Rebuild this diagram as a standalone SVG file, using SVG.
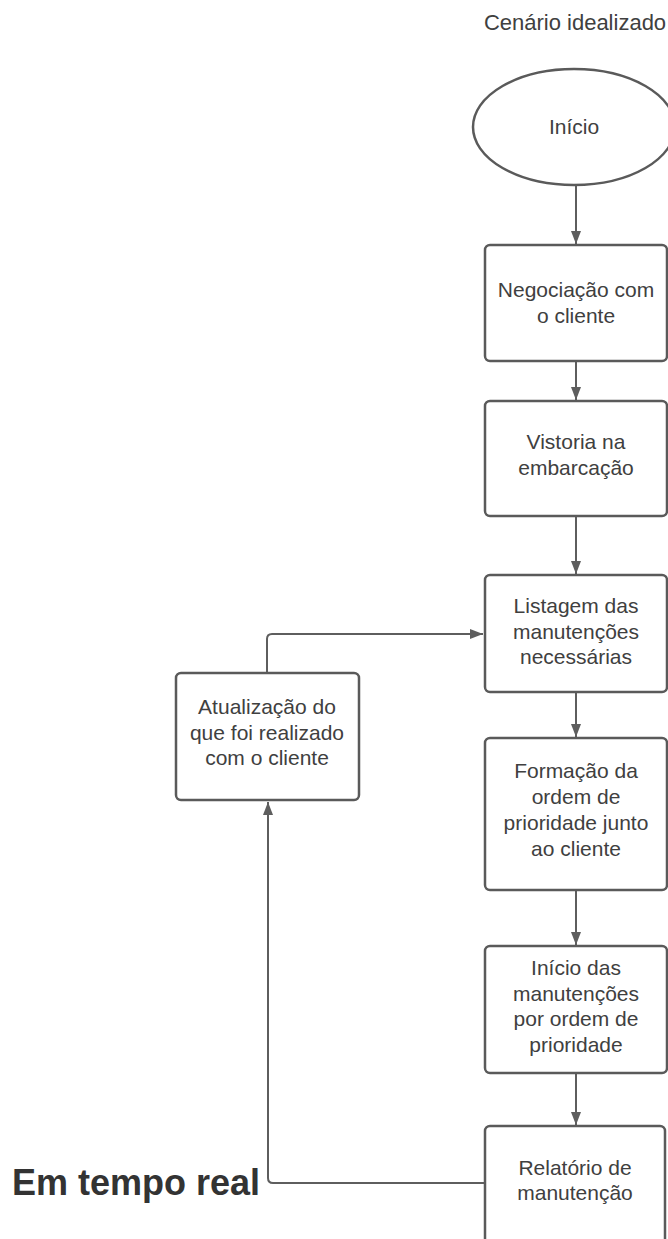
<svg xmlns="http://www.w3.org/2000/svg" width="668" height="1239" viewBox="0 0 668 1239">
<defs>
<style>
.box{fill:#ffffff;stroke:#5a5a5a;stroke-width:2.5}
.t{font-family:"Liberation Sans",Arial,sans-serif;font-size:21px;fill:#404040;text-anchor:middle}
.c{fill:none;stroke:#5e5e5e;stroke-width:2}
</style>
<marker id="ah" markerUnits="userSpaceOnUse" markerWidth="14" markerHeight="12" refX="13" refY="5" orient="auto">
<path d="M0,0 L13,5 L0,10 Z" fill="#5e5e5e"/>
</marker>
</defs>
<rect width="668" height="1239" fill="#ffffff"/>
<text x="575" y="30" class="t" style="font-size:22px">Cenário idealizado</text>

<g id="connectors">
<line class="c" x1="576" y1="185" x2="576" y2="244" marker-end="url(#ah)"/>
<line class="c" x1="576" y1="362" x2="576" y2="400" marker-end="url(#ah)"/>
<line class="c" x1="576" y1="516" x2="576" y2="574" marker-end="url(#ah)"/>
<line class="c" x1="576" y1="692" x2="576" y2="737" marker-end="url(#ah)"/>
<line class="c" x1="576" y1="890" x2="576" y2="945" marker-end="url(#ah)"/>
<line class="c" x1="576" y1="1073" x2="576" y2="1125" marker-end="url(#ah)"/>
<path class="c" d="M267,673 L267,639 Q267,634 272,634 L483,634" marker-end="url(#ah)"/>
<path class="c" d="M485,1183 L273,1183 Q268,1183 268,1178 L268,802" marker-end="url(#ah)"/>
</g>

<g id="inicio">
<ellipse cx="574" cy="127" rx="101" ry="58" class="box"/>
<text x="574" y="134" class="t">Início</text>
</g>
<g id="negociacao">
<rect x="485" y="245" width="182" height="116" rx="5" class="box"/>
<text x="576" y="297" class="t">Negociação com</text>
<text x="576" y="323" class="t">o cliente</text>
</g>
<g id="vistoria">
<rect x="485" y="401" width="182" height="115" rx="5" class="box"/>
<text x="576" y="449" class="t">Vistoria na</text>
<text x="576" y="475" class="t">embarcação</text>
</g>
<g id="listagem">
<rect x="485" y="575" width="182" height="117" rx="5" class="box"/>
<text x="576" y="613" class="t">Listagem das</text>
<text x="576" y="639" class="t">manutenções</text>
<text x="576" y="664" class="t">necessárias</text>
</g>
<g id="atualizacao">
<rect x="176" y="673" width="183" height="127" rx="5" class="box"/>
<text x="267" y="714" class="t">Atualização do</text>
<text x="267" y="740" class="t">que foi realizado</text>
<text x="267" y="765" class="t">com o cliente</text>
</g>
<g id="formacao">
<rect x="485" y="738" width="182" height="152" rx="5" class="box"/>
<text x="576" y="778" class="t">Formação da</text>
<text x="576" y="804" class="t">ordem de</text>
<text x="576" y="830" class="t">prioridade junto</text>
<text x="576" y="856" class="t">ao cliente</text>
</g>
<g id="inicio-manutencoes">
<rect x="485" y="946" width="182" height="127" rx="5" class="box"/>
<text x="576" y="975" class="t">Início das</text>
<text x="576" y="1001" class="t">manutenções</text>
<text x="576" y="1026" class="t">por ordem de</text>
<text x="576" y="1052" class="t">prioridade</text>
</g>
<g id="relatorio">
<rect x="485" y="1126" width="180" height="130" rx="5" class="box"/>
<text x="575" y="1175" class="t">Relatório de</text>
<text x="575" y="1200" class="t">manutenção</text>
</g>
<text x="12" y="1195" style="font-family:'Liberation Sans',Arial,sans-serif;font-weight:bold;font-size:36px;fill:#333333">Em tempo real</text>
</svg>
